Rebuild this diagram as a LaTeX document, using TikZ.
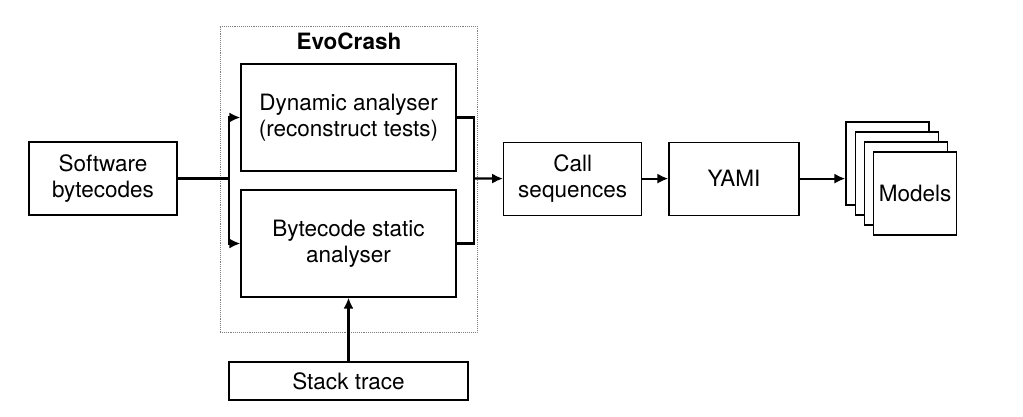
\documentclass[tikz,border=0pt]{standalone}
\usepackage{fontspec}
\setmainfont{TeX Gyre Heros}
\usetikzlibrary{arrows.meta}

\begin{document}
\begin{tikzpicture}[x=1pt, y=-1pt, >={Latex[length=11pt,width=10pt]},
		blok/.style={draw, line width=1.1pt, align=center, inner sep=0pt, font={\fontsize{22.5}{26}\selectfont}},
		flow/.style={line width=2.2pt},
		every edge/.style={draw, flow}]
	\useasboundingbox (0,0) rectangle (1023,416);
	\node (evo) [draw=gray, densely dotted, line width=0.9pt, minimum width=257pt, minimum height=306pt] at (348.5,179) {};
	\node (evolab) [font={\fontsize{22.5}{26}\selectfont\bfseries}] at (349,41) {EvoCrash};

	\node (soft) [blok, minimum width=148pt, minimum height=73pt] at (103,178.5) {Software\\bytecodes};
	\node (dyn) [blok, minimum width=215pt, minimum height=107pt] at (348.5,117.5) {Dynamic analyser\\(reconstruct tests)};
	\node (stat) [blok, minimum width=215pt, minimum height=107pt] at (348.5,243.5) {Bytecode static\\analyser};
	\node (trace) [blok, minimum width=239pt, minimum height=38pt] at (348.5,381) {Stack trace};
	\node (call) [blok, minimum width=138pt, minimum height=73pt] at (572.7,178.6) {Call\\sequences};
	\node (yami) [blok, minimum width=130pt, minimum height=73pt] at (734,178.6) {YAMI};
	\foreach \i in {0,1,2}
		\node (m\i) [blok, fill=white, minimum width=83pt, minimum height=83pt] at (887.5+9.2*\i, 163.5+10*\i) {};
	\node (m3) [blok, fill=white, minimum width=83pt, minimum height=83pt] at (915.1,193.5) {Models};

	\coordinate (split) at (229,178.5);
	\coordinate (join) at (474,178.5);
	\draw[flow] (soft.east) -- (split);
	\path[->]
		(split) edge[to path={|- (\tikztotarget)}] (dyn.west)
				edge[to path={|- (\tikztotarget)}] (stat.west)
		(join) edge (call.west)
		(trace) edge (stat)
		(call) edge (yami)
		(yami.east) edge (yami.east -| m0.west);
	\draw[flow] (dyn.east) -| (join) |- (stat.east);
\end{tikzpicture}
\end{document}
